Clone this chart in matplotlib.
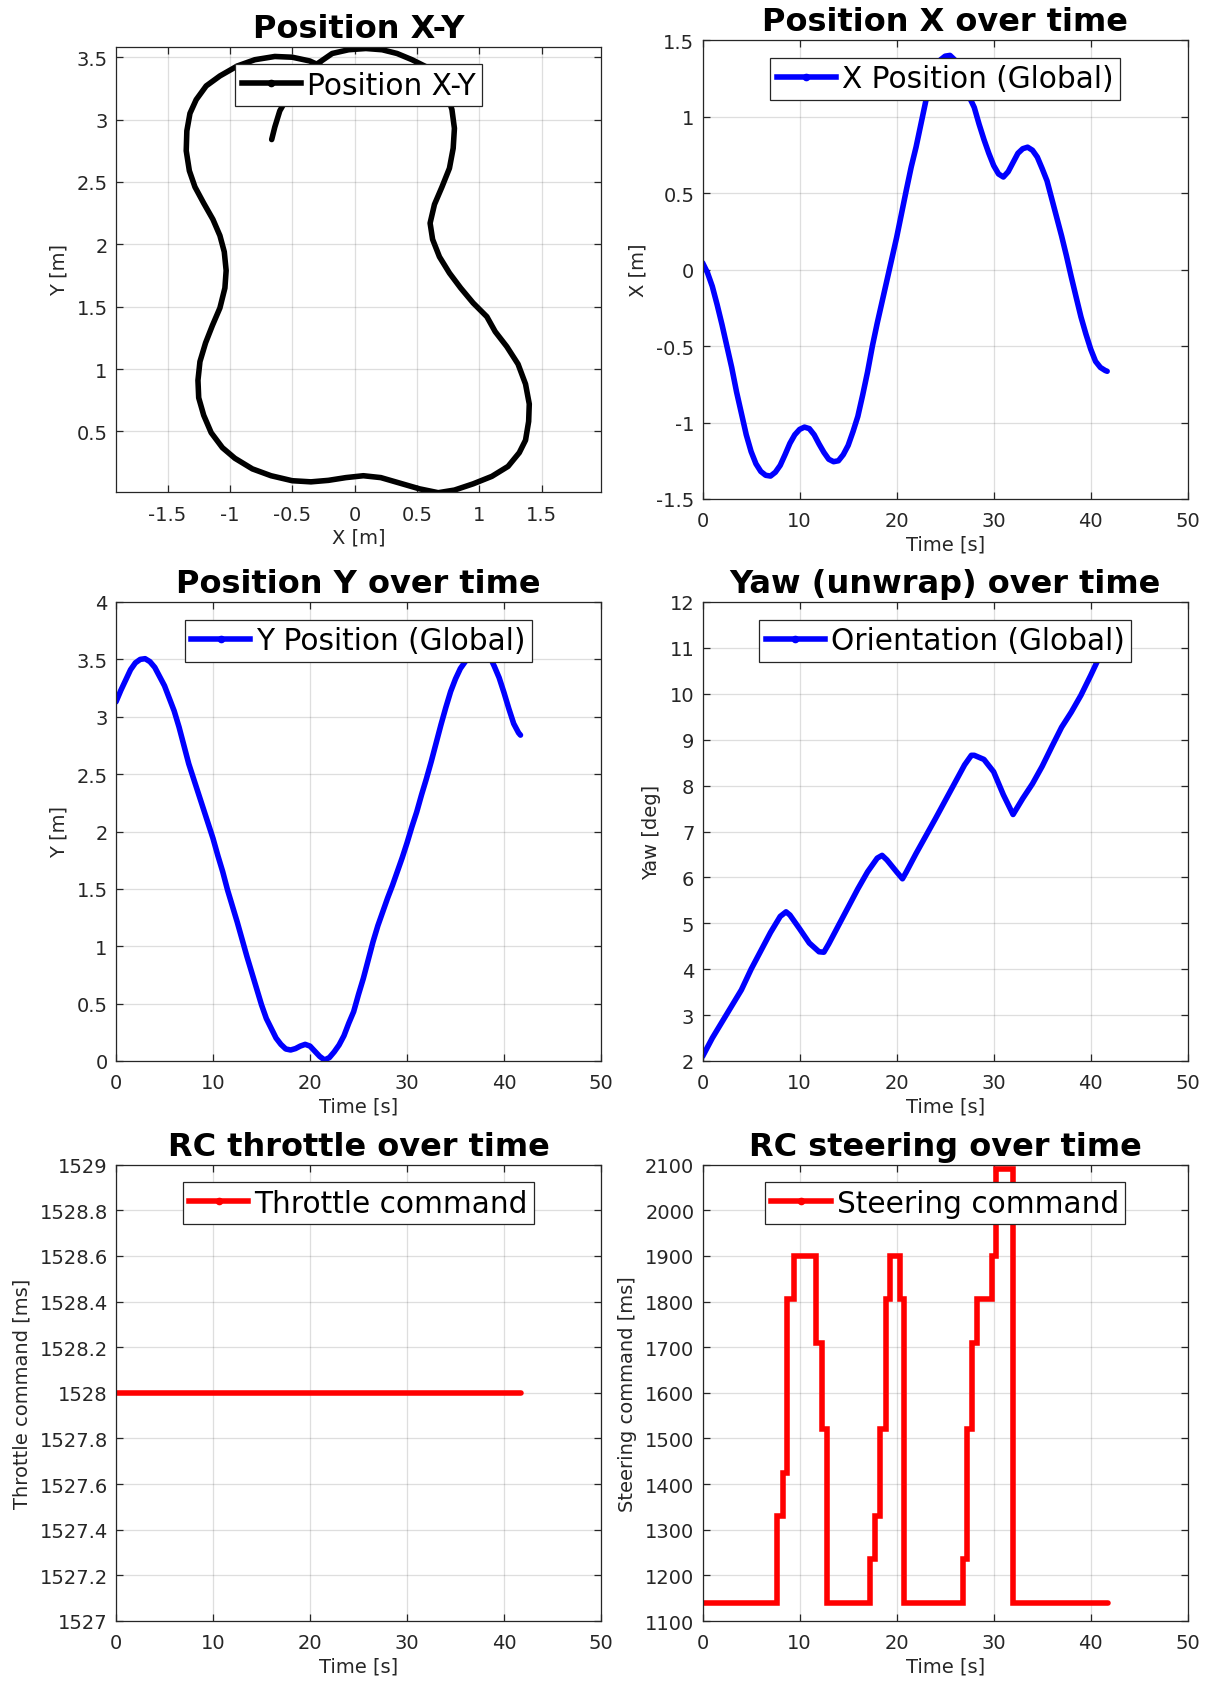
import matplotlib
matplotlib.use('Agg')
import matplotlib.pyplot as plt
from matplotlib.ticker import FuncFormatter
from matplotlib.lines import Line2D

# ---------------- data ----------------
t_pos = [0, 0.5, 1, 1.5, 2, 2.5, 3, 3.5, 4, 4.5, 5, 5.5, 6, 6.5, 7, 7.5, 8, 8.5, 9, 9.5,
         10, 10.5, 11, 11.5, 12, 12.5, 13, 13.5, 14, 14.5, 15, 15.5, 16, 16.5, 17, 17.5,
         18, 18.5, 19, 19.5, 20, 20.5, 21, 21.5, 22, 22.5, 23, 23.5, 24, 24.5, 25, 25.5,
         26, 26.5, 27, 27.5, 28, 28.5, 29, 29.5, 30, 30.5, 31, 31.5, 32, 32.5, 33, 33.5,
         34, 34.5, 35, 35.5, 36, 36.5, 37, 37.5, 38, 38.5, 39, 39.5, 40, 40.5, 41, 41.5,
         41.7]
x_pos = [0.044, -0.02, -0.11, -0.23, -0.36, -0.50, -0.64, -0.80, -0.94, -1.08, -1.19,
         -1.27, -1.32, -1.345, -1.35, -1.325, -1.28, -1.21, -1.136, -1.08, -1.045, -1.03,
         -1.04, -1.08, -1.14, -1.195, -1.24, -1.256, -1.25, -1.21, -1.15, -1.06, -0.96,
         -0.82, -0.67, -0.50, -0.35, -0.21, -0.07, 0.07, 0.21, 0.365, 0.52, 0.67, 0.80,
         0.95, 1.10, 1.23, 1.32, 1.37, 1.395, 1.40, 1.37, 1.31, 1.22, 1.127, 1.06, 0.95,
         0.85, 0.76, 0.68, 0.625, 0.605, 0.64, 0.70, 0.76, 0.79, 0.80, 0.78, 0.735, 0.66,
         0.58, 0.46, 0.34, 0.22, 0.09, -0.048, -0.18, -0.31, -0.42, -0.52, -0.60, -0.64,
         -0.66, -0.665]
y_pos = [3.13, 3.23, 3.32, 3.41, 3.47, 3.50, 3.506, 3.48, 3.43, 3.35, 3.27, 3.16, 3.05,
         2.91, 2.75, 2.59, 2.46, 2.33, 2.20, 2.07, 1.94, 1.79, 1.65, 1.49, 1.35, 1.21,
         1.06, 0.91, 0.77, 0.63, 0.49, 0.37, 0.285, 0.20, 0.145, 0.105, 0.096, 0.108,
         0.13, 0.145, 0.13, 0.085, 0.04, 0.009, 0.03, 0.08, 0.14, 0.22, 0.33, 0.43, 0.58,
         0.72, 0.88, 1.04, 1.18, 1.30, 1.42, 1.53, 1.65, 1.77, 1.90, 2.04, 2.17, 2.32,
         2.46, 2.61, 2.77, 2.93, 3.08, 3.22, 3.33, 3.42, 3.48, 3.53, 3.56, 3.57, 3.56,
         3.53, 3.44, 3.34, 3.21, 3.07, 2.94, 2.86, 2.84]

t_yaw = [0, 1, 2, 3, 4, 5, 6, 7, 8, 8.6, 9, 10, 11, 12, 12.5, 13, 14, 15, 16, 17, 18,
         18.5, 19, 20, 20.6, 21, 22, 23, 24, 25, 26, 27, 27.7, 28, 29, 30, 31, 32, 33,
         34, 35, 36, 37, 38, 39, 40, 41, 41.7]
yaw = [2.10, 2.50, 2.85, 3.20, 3.55, 4.00, 4.40, 4.80, 5.15, 5.25, 5.18, 4.88, 4.57,
       4.38, 4.37, 4.55, 4.95, 5.35, 5.75, 6.12, 6.42, 6.48, 6.38, 6.12, 5.97, 6.12,
       6.52, 6.90, 7.28, 7.67, 8.06, 8.45, 8.66, 8.66, 8.57, 8.30, 7.80, 7.37, 7.72,
       8.04, 8.42, 8.85, 9.27, 9.60, 9.97, 10.40, 10.85, 11.15]

t_thr = [0, 41.8]
thr = [1528, 1528]

t_steer = [0, 7.7, 8.3, 8.7, 9.4, 11.7, 12.3, 12.8, 17.3, 17.8, 18.3, 18.9, 19.3, 20.3,
           20.8, 26.8, 27.3, 27.8, 28.3, 29.8, 30.2, 32.0, 41.8]
steer = [1140, 1330, 1425, 1805, 1900, 1710, 1520, 1140, 1235, 1330, 1520, 1805, 1900,
         1805, 1140, 1235, 1520, 1710, 1805, 1900, 2090, 1140, 1140]

# ---------------- style ----------------
W, H = 1214, 1683
plt.rcParams['font.family'] = ['DejaVu Sans']
plt.rcParams['axes.unicode_minus'] = False
fig = plt.figure(figsize=(W / 100, H / 100), dpi=100)

AX_COL = '#262626'
TICK_FS = 14
LAB_FS = 14
TITLE_FS = 23
LEG_FS = 21.3
LW = 4.0

fmt = FuncFormatter(lambda v, p: '%g' % round(v, 6))


def make_axes(x0, x1, y0, y1):
    return fig.add_axes([x0 / W, 1 - y1 / H, (x1 - x0) / W, (y1 - y0) / H])


def style(ax, title, xlabel, ylabel, legend_label, color):
    ax.set_title(title, fontsize=TITLE_FS, fontweight='bold', pad=7)
    ax.set_xlabel(xlabel, fontsize=LAB_FS, color=AX_COL, labelpad=3)
    ax.set_ylabel(ylabel, fontsize=LAB_FS, color=AX_COL, labelpad=6)
    ax.grid(True, color=AX_COL, alpha=0.15, linewidth=0.9)
    ax.set_axisbelow(True)
    for s in ax.spines.values():
        s.set_color(AX_COL)
        s.set_linewidth(0.9)
    ax.tick_params(direction='in', length=5, width=0.9, colors=AX_COL,
                   labelsize=TICK_FS, top=True, right=True)
    ax.tick_params(axis='x', pad=9)
    ax.tick_params(axis='y', pad=6)
    ax.xaxis.set_major_formatter(fmt)
    ax.yaxis.set_major_formatter(fmt)
    h = ax.get_window_extent().height
    handle = Line2D([], [], color=color, lw=LW, marker='.', ms=9)
    leg = ax.legend([handle], [legend_label], loc='upper center',
                    bbox_to_anchor=(0.5, 1 - 17.5 / h), fontsize=LEG_FS,
                    fancybox=False, framealpha=1, edgecolor=AX_COL,
                    borderpad=0.22, handletextpad=0.2, handlelength=2.0,
                    borderaxespad=0)
    leg.get_frame().set_linewidth(0.9)


kw = dict(lw=LW, solid_joinstyle='round', solid_capstyle='round')

# Position X-Y
ax1 = make_axes(116, 601, 47.5, 493.2)
ax1.plot(x_pos, y_pos, color='black', **kw)
ax1.set_xlim(-1.913, 1.975)
ax1.set_ylim(0.013, 3.586)
ax1.set_xticks([-1.5, -1, -0.5, 0, 0.5, 1, 1.5])
ax1.set_yticks([0.5, 1, 1.5, 2, 2.5, 3, 3.5])
style(ax1, 'Position X-Y', 'X [m]', 'Y [m]', 'Position X-Y', 'black')

# Position X over time
ax2 = make_axes(702.6, 1187.7, 41.1, 500)
ax2.plot(t_pos, x_pos, color='blue', **kw)
ax2.set_xlim(0, 50)
ax2.set_ylim(-1.5, 1.5)
ax2.set_xticks(range(0, 51, 10))
ax2.set_yticks([-1.5, -1, -0.5, 0, 0.5, 1, 1.5])
style(ax2, 'Position X over time', 'Time [s]', 'X [m]', 'X Position (Global)', 'blue')

# Position Y over time
ax3 = make_axes(116, 601, 603, 1062)
ax3.plot(t_pos, y_pos, color='blue', **kw)
ax3.set_xlim(0, 50)
ax3.set_ylim(0, 4)
ax3.set_xticks(range(0, 51, 10))
ax3.set_yticks([0, 0.5, 1, 1.5, 2, 2.5, 3, 3.5, 4])
style(ax3, 'Position Y over time', 'Time [s]', 'Y [m]', 'Y Position (Global)', 'blue')

# Yaw
ax4 = make_axes(702.6, 1187.7, 603, 1062)
ax4.plot(t_yaw, yaw, color='blue', **kw)
ax4.set_xlim(0, 50)
ax4.set_ylim(2, 12)
ax4.set_xticks(range(0, 51, 10))
ax4.set_yticks(range(2, 13))
style(ax4, 'Yaw (unwrap) over time', 'Time [s]', 'Yaw [deg]', 'Orientation (Global)', 'blue')

# Throttle
ax5 = make_axes(116, 601, 1165.7, 1622)
ax5.plot(t_thr, thr, color='red', **kw)
ax5.set_xlim(0, 50)
ax5.set_ylim(1527, 1529)
ax5.set_xticks(range(0, 51, 10))
ax5.set_yticks([1527 + 0.2 * k for k in range(11)])
style(ax5, 'RC throttle over time', 'Time [s]', 'Throttle command [ms]', 'Throttle command', 'red')

# Steering
ax6 = make_axes(702.6, 1187.7, 1165.7, 1622)
ax6.plot(t_steer, steer, color='red', drawstyle='steps-post', lw=LW,
         solid_joinstyle='miter', solid_capstyle='round')
ax6.set_xlim(0, 50)
ax6.set_ylim(1100, 2100)
ax6.set_xticks(range(0, 51, 10))
ax6.set_yticks(range(1100, 2101, 100))
style(ax6, 'RC steering over time', 'Time [s]', 'Steering command [ms]', 'Steering command', 'red')

fig.savefig('out.png', dpi=100, facecolor='white')
